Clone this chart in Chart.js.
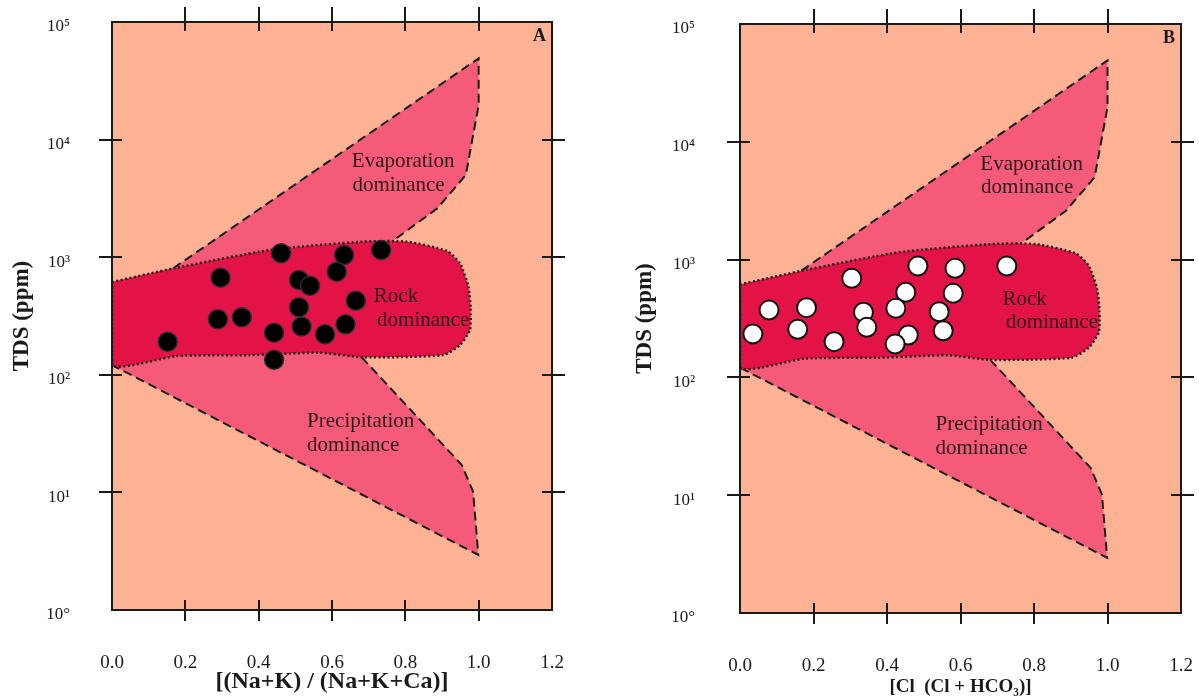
<!DOCTYPE html>
<html>
<head>
<meta charset="utf-8">
<script src="https://cdn.jsdelivr.net/npm/chart.js@4.4.1/dist/chart.umd.min.js"></script>
<style>
  html, body { margin: 0; padding: 0; background: #fff; }
  #wrap { position: relative; width: 1199px; height: 698px; }
  canvas { position: absolute; top: 0; }
  #chartA { left: 0; }
  #chartB { left: 600px; }
</style>
</head>
<body>
<div id="wrap">
  <canvas id="chartA" width="600" height="698"></canvas>
  <canvas id="chartB" width="599" height="698"></canvas>
</div>
<script>
// axis ticks
const xTicks = [0, 0.2, 0.4, 0.6, 0.8, 1.0, 1.2];
const xTickLabels = ['0.0', '0.2', '0.4', '0.6', '0.8', '1.0', '1.2'];
const yTicks = [1, 10, 100, 1000, 10000, 100000];
const yTickLabels = ['10°', '10¹', '10²', '10³', '10⁴', '10⁵'];

// panel A samples: (Na+K)/(Na+K+Ca) vs TDS
const naRatio = [0.461, 0.633, 0.734, 0.613, 0.296, 0.510, 0.540, 0.665, 0.510, 0.289, 0.354, 0.517, 0.442, 0.581, 0.637, 0.152, 0.442];
const tdsA = [1080, 1044, 1152, 753, 670, 640, 572, 427, 375, 297, 308, 257, 228, 221, 269, 191, 134];

// panel B samples: Cl/(Cl+HCO3) vs TDS
const clRatio = [0.484, 0.585, 0.726, 0.304, 0.451, 0.580, 0.079, 0.181, 0.336, 0.424, 0.542, 0.035, 0.157, 0.345, 0.553, 0.256, 0.458, 0.422];
const tdsB = [883, 844, 883, 694, 528, 517, 373, 391, 357, 386, 361, 234, 256, 266, 249, 201, 229, 192];

// Gibbs boundaries (dashed)
const evapX = [0.167, 1.0, 1.0, 0.965, 0.887, 0.763];
const evapY = [805, 49100, 19700, 5000, 2600, 1355];
const precX = [0.681, 0.954, 0.985, 0.999, 0];
const precY = [141, 17.1, 10.1, 2.94, 121];

// rock dominance field (dotted)
const rockX = [0, 0.169, 0.431, 0.685, 0.804, 0.913, 0.949, 0.972, 0.978, 0.976, 0.949, 0.903, 0.681, 0.567, 0.376, 0.176, 0, 0];
const rockY = [615, 805, 1152, 1355, 1355, 1130, 887, 561, 368, 240, 179, 147, 141, 154, 147, 144.5, 121, 615];

const regionText = [['Evaporation', 'dominance'], ['Rock', 'dominance'], ['Precipitation', 'dominance']];

const wingX = [0].concat(evapX, precX, [0]);
const wingY = [615].concat(evapY, precY, [615]);

const pts = (xs, ys) => xs.map((v, i) => ({ x: v, y: ys[i] }));
const serif = '"Liberation Serif", "Times New Roman", serif';
const ink = '#1a1a1a';

const gibbsFrame = {
  id: 'gibbsFrame',
  beforeDatasetsDraw(chart) {
    const { ctx, chartArea: a } = chart;
    ctx.save();
    ctx.fillStyle = '#FFB394';
    ctx.fillRect(a.left, a.top, a.right - a.left, a.bottom - a.top);
    ctx.restore();
  },
  afterDatasetsDraw(chart, args, opts) {
    const { ctx, chartArea: a, scales: { x, y } } = chart;
    const put = (txt, vx, ly) => ctx.fillText(txt, x.getPixelForValue(vx), y.getPixelForValue(Math.pow(10, ly)));
    ctx.save();
    ctx.fillStyle = '#2b161c';
    ctx.font = '21px ' + serif;
    ctx.textAlign = 'left';
    ctx.textBaseline = 'middle';
    put(regionText[0][0], 0.654, 3.81);
    put(regionText[0][1], 0.656, 3.614);
    put(regionText[1][0], 0.714, 2.662);
    put(regionText[1][1], 0.723, 2.466);
    put(regionText[2][0], 0.532, 1.599);
    put(regionText[2][1], 0.532, 1.395);

    ctx.strokeStyle = ink;
    ctx.lineWidth = 2;
    ctx.strokeRect(a.left, a.top, a.right - a.left, a.bottom - a.top);
    ctx.beginPath();
    x.ticks.forEach((t) => {
      if (t.value <= 0 || t.value >= 1.2) return;
      const px = Math.round(x.getPixelForValue(t.value));
      ctx.moveTo(px, a.bottom - 10); ctx.lineTo(px, a.bottom + 11);
      ctx.moveTo(px, a.top - 15); ctx.lineTo(px, a.top + 9);
    });
    y.ticks.forEach((t) => {
      if (t.value <= 1 || t.value >= 100000) return;
      const py = Math.round(y.getPixelForValue(t.value));
      ctx.moveTo(a.left - 13, py); ctx.lineTo(a.left + 10, py);
      ctx.moveTo(a.right - 10, py); ctx.lineTo(a.right + 13, py);
    });
    ctx.stroke();

    ctx.fillStyle = ink;
    ctx.font = 'bold 18px ' + serif;
    ctx.textAlign = 'right';
    ctx.fillText(opts.letter, a.right - 6, a.top + 14);
    ctx.restore();
  }
};

function makePanel(id, cfg) {
  return new Chart(document.getElementById(id), {
    type: 'scatter',
    data: {
      datasets: [
        { label: 'samples', data: pts(cfg.xs, cfg.ys), pointRadius: 9.5, pointHoverRadius: 9.5,
          pointBackgroundColor: cfg.dotFill, pointBorderColor: cfg.dotBorder, pointBorderWidth: cfg.dotBorderWidth, order: 0 },
        { label: 'rock', data: pts(rockX, rockY), showLine: true, fill: 'shape', backgroundColor: '#E31347',
          borderColor: ink, borderWidth: 2.5, borderDash: [2, 2.5], tension: 0.2, pointRadius: 0, order: 1 },
        { label: 'evap', data: pts(evapX, evapY), showLine: true, fill: false,
          borderColor: ink, borderWidth: 2, borderDash: [9, 5], pointRadius: 0, order: 2 },
        { label: 'prec', data: pts(precX, precY), showLine: true, fill: false,
          borderColor: ink, borderWidth: 2, borderDash: [9, 5], pointRadius: 0, order: 3 },
        { label: 'wing', data: pts(wingX, wingY), showLine: true, fill: 'shape', backgroundColor: '#F55B78',
          borderColor: 'rgba(0,0,0,0)', borderWidth: 1, pointRadius: 0, order: 4 }
      ]
    },
    options: {
      responsive: false,
      animation: false,
      devicePixelRatio: 1,
      layout: { padding: cfg.padding },
      plugins: { legend: { display: false }, tooltip: { enabled: false }, gibbsFrame: { letter: cfg.letter } },
      scales: {
        x: {
          type: 'linear', min: 0, max: 1.2,
          grid: { display: false }, border: { display: false },
          afterBuildTicks: (s) => { s.ticks = xTicks.map((v) => ({ value: v })); },
          afterFit: (s) => { s.height = cfg.xHeight; s.paddingLeft = 0; s.paddingRight = 0; },
          ticks: { autoSkip: false, maxRotation: 0, padding: 34, color: ink, font: { family: serif, size: 19 },
            callback: (v, i) => xTickLabels[i] },
          title: { display: true, text: cfg.xTitle, color: ink, padding: { top: 0, bottom: cfg.xTitlePad },
            font: { family: serif, size: cfg.xTitleSize, weight: 'bold' } }
        },
        y: {
          type: 'logarithmic', min: 1, max: 100000,
          grid: { display: false }, border: { display: false },
          afterBuildTicks: (s) => { s.ticks = yTicks.map((v) => ({ value: v })); },
          afterFit: (s) => { s.width = cfg.yWidth; s.paddingTop = 0; s.paddingBottom = 0; },
          ticks: { autoSkip: false, padding: cfg.yTickPad, labelOffset: 5, color: ink, font: { family: serif, size: 17 },
            callback: (v, i) => yTickLabels[i] },
          title: { display: true, text: 'TDS (ppm)', color: ink, padding: { top: cfg.yTitlePad, bottom: 0 },
            font: { family: serif, size: 23, weight: 'bold' } }
        }
      }
    },
    plugins: [gibbsFrame]
  });
}

makePanel('chartA', {
  xs: naRatio, ys: tdsA, dotFill: '#000', dotBorder: '#2e2e2e', dotBorderWidth: 1.5, letter: 'A',
  padding: { top: 22, right: 48, left: 0, bottom: 0 }, xHeight: 88, yWidth: 112, yTickPad: 34, yTitlePad: 8,
  xTitle: '[(Na+K) / (Na+K+Ca)]', xTitleSize: 24, xTitlePad: 2
});
makePanel('chartB', {
  xs: clRatio, ys: tdsB, dotFill: '#fff', dotBorder: '#111', dotBorderWidth: 2, letter: 'B',
  padding: { top: 24, right: 18, left: 0, bottom: 0 }, xHeight: 85, yWidth: 140, yTickPad: 37, yTitlePad: 31,
  xTitle: '[Cl  (Cl + HCO₃)]', xTitleSize: 19, xTitlePad: 0
});
</script>
</body>
</html>
